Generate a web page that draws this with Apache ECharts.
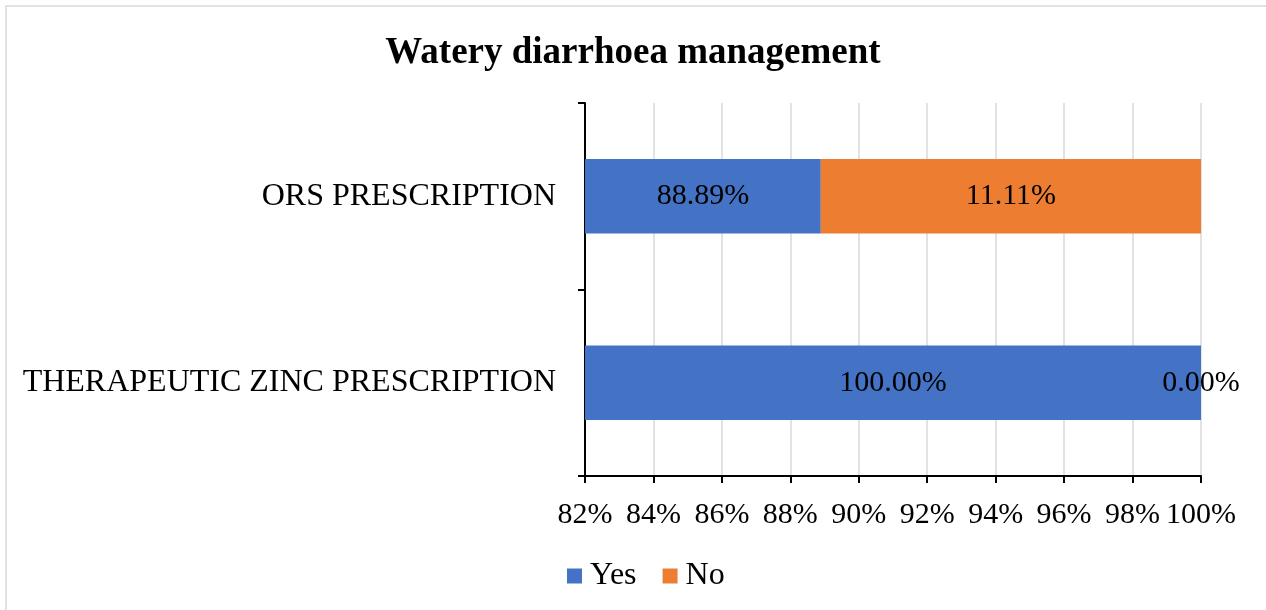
<!DOCTYPE html>
<html>
<head>
<meta charset="utf-8">
<script src="https://cdn.jsdelivr.net/npm/echarts@6/dist/echarts.min.js"></script>
<style>
html,body{margin:0;padding:0;background:#fff;}
#chart{width:1266px;height:610px;}
</style>
</head>
<body>
<div id="chart"></div>
<script>
const categories = ['THERAPEUTIC ZINC PRESCRIPTION', 'ORS PRESCRIPTION'];
const yesValues = [100.00, 88.89];
const noValues = [0.00, 11.11];
const xTicks = [82, 84, 86, 88, 90, 92, 94, 96, 98, 100];

const FONT = '"Liberation Serif", "Times New Roman", serif';
const chart = echarts.init(document.getElementById('chart'), null, {renderer: 'canvas'});
const labelCfg = {
  show: true,
  position: 'inside',
  color: '#000',
  fontFamily: FONT,
  fontSize: 30,
  formatter: p => p.value.toFixed(2) + '%'
};
chart.setOption({
  animation: false,
  backgroundColor: '#fff',
  graphic: [{
    type: 'rect',
    shape: {x: 6, y: 6, width: 1290, height: 640},
    style: {fill: 'none', stroke: '#d9d9d9', lineWidth: 1.5},
    silent: true
  }],
  title: {
    text: 'Watery diarrhoea management',
    left: 'center',
    top: 30,
    textStyle: {fontFamily: FONT, fontSize: 37, fontWeight: 'bold', color: '#000'}
  },
  legend: {
    data: ['Yes', 'No'],
    top: 555,
    left: 562,
    itemWidth: 15,
    itemHeight: 15,
    itemGap: 26,
    icon: 'rect',
    textStyle: {fontFamily: FONT, fontSize: 32, color: '#000', padding: [0, 0, 0, 3]}
  },
  grid: {left: 585, right: 65, top: 103, bottom: 134, containLabel: false},
  xAxis: {
    type: 'value',
    min: 82,
    max: 100,
    interval: 2,
    axisLine: {show: true, lineStyle: {color: '#000', width: 2}},
    axisTick: {show: true, length: 7, lineStyle: {color: '#000', width: 2}},
    splitLine: {show: true, lineStyle: {color: '#d9d9d9', width: 1.5}},
    axisLabel: {
      fontFamily: FONT, fontSize: 30, color: '#000', margin: 24,
      formatter: v => xTicks.includes(v) ? v + '%' : ''
    }
  },
  yAxis: {
    type: 'category',
    data: categories,
    axisLine: {show: true, lineStyle: {color: '#000', width: 2}},
    axisTick: {show: true, length: 7, lineStyle: {color: '#000', width: 2}},
    axisLabel: {fontFamily: FONT, fontSize: 32, color: '#000', margin: 29, padding: [6, 0, 0, 0]}
  },
  series: [
    {
      name: 'Yes', type: 'bar', stack: 'total', data: yesValues,
      barWidth: '40%', itemStyle: {color: '#4472c4'}, label: labelCfg
    },
    {
      name: 'No', type: 'bar', stack: 'total', data: noValues,
      barWidth: '40%', itemStyle: {color: '#ed7d31'}, label: labelCfg
    }
  ]
});
</script>
</body>
</html>
